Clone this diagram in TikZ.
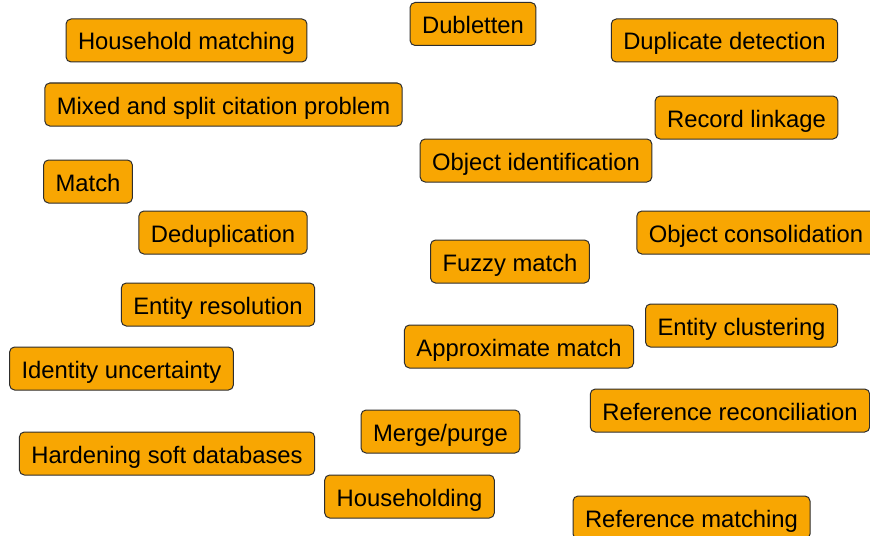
\documentclass[tikz,border=0pt]{standalone}
\usepackage{fontspec}
\setmainfont{Liberation Sans}
\usepackage{tikz}
\definecolor{termorange}{HTML}{F8A602}
\definecolor{termedge}{HTML}{2E2E2E}
\tikzset{
  term/.style={draw=termedge, fill=termorange, rounded corners=2.5pt, line width=0.5pt,
    inner xsep=6pt, inner ysep=0pt, minimum height=21.5pt, text=black,
    text height=10pt, text depth=0.5pt,
    font=\fontsize{11.9}{14}\selectfont}
}
\begin{document}
\begin{tikzpicture}[x=0.5pt, y=-0.5pt]
        \clip (0,0) rectangle (870,535);
        \fill[white] (0,0) rectangle (870,535);
        % left column
        \node[term] (hh) at (186.5,40.5) {Household matching};
        \node[term] (mixed) at (223.5,104.5) {Mixed and split citation problem};
        \node[term] (match) at (88,181.5) {Match};
        \node[term] (dedup) at (223,232.5) {Deduplication};
        \node[term] (entres) at (218,304.5) {Entity resolution};
        \node[term] (identunc) at (121.5,368.5) {Identity uncertainty};
        \node[term] (harden) at (167,453.5) {Hardening soft databases};
        % middle column
        \node[term] (dub) at (473,24) {Dubletten};
        \node[term] (objid) at (536,160.5) {Object identification};
        \node[term] (fuzzy) at (510,261.5) {Fuzzy match};
        \node[term] (approx) at (519,346.5) {Approximate match};
        \node[term] (merge) at (440.5,431.5) {Merge/purge};
        \node[term] (hhing) at (409.5,496.5) {Householding};
        % right column
        \node[term] (dupdet) at (724.5,40.5) {Duplicate detection};
        \node[term] (reclink) at (746.5,117.5) {Record linkage};
        \node[term] (objcons) at (756,232.5) {Object consolidation};
        \node[term] (entclus) at (741.5,325.5) {Entity clustering};
        \node[term] (refrec) at (730,410.5) {Reference reconciliation};
        \node[term] (refmatch) at (691.5,517.5) {Reference matching};
    \end{tikzpicture}
\end{document}
